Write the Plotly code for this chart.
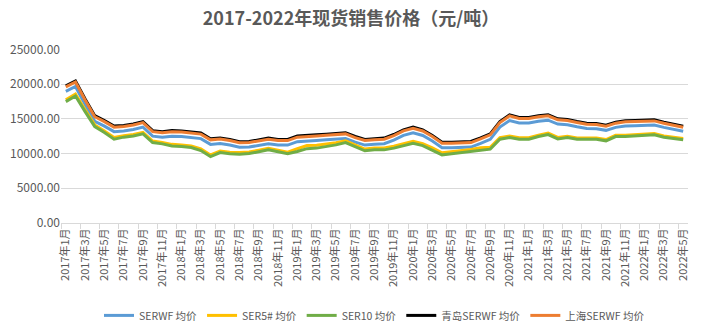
import plotly.graph_objects as go

months = [f"{y}年{m}月" for y in range(2017, 2023) for m in range(1, 13)][:65]

shanghai = [19600, 20300, 17700, 15300, 14600, 13800, 13900, 14100, 14450, 13150,
            13000, 13150, 13100, 13000, 12800, 11970, 12100, 11870, 11550, 11580,
            11870, 12070, 11870, 11870, 12360, 12500, 12540, 12640, 12740, 12830,
            12300, 11870, 11970, 12070, 12590, 13260, 13650, 13250, 12450, 11490,
            11490, 11580, 11580, 12110, 12690, 14460, 15420, 15040, 15040, 15300,
            15440, 14850, 14750, 14460, 14220, 14170, 13940, 14370, 14560, 14600,
            14700, 14700, 14370, 14120, 13790]

qingdao = [19750, 20450, 17850, 15450, 14750, 13950, 14050, 14250, 14600, 13300,
           13150, 13300, 13250, 13150, 12950, 12120, 12250, 12020, 11700, 11730,
           12020, 12220, 12020, 12020, 12510, 12650, 12690, 12790, 12890, 12980,
           12450, 12020, 12120, 12220, 12740, 13410, 13800, 13400, 12600, 11640,
           11640, 11730, 11730, 12260, 12840, 14610, 15570, 15190, 15190, 15450,
           15590, 15000, 14900, 14610, 14370, 14320, 14090, 14520, 14710, 14750,
           14850, 14850, 14520, 14270, 13940]

serwf = [18950, 19650, 17050, 14650, 13950, 13150, 13250, 13450, 13800, 12500,
         12350, 12500, 12450, 12350, 12150, 11320, 11450, 11220, 10900, 10930,
         11220, 11420, 11220, 11220, 11710, 11850, 11890, 11990, 12090, 12180,
         11650, 11220, 11320, 11420, 11940, 12610, 13000, 12600, 11800, 10840,
         10840, 10930, 10930, 11460, 12040, 13810, 14750, 14400, 14400, 14650,
         14800, 14250, 14150, 13860, 13620, 13570, 13340, 13770, 13960, 14000,
         14100, 14100, 13770, 13520, 13200]

ser5 = [17750, 18580, 16300, 14120, 13250, 12300, 12580, 12760, 13050, 11800,
        11600, 11320, 11230, 11100, 10660, 9800, 10370, 10190, 10140, 10230,
        10480, 10760, 10480, 10200, 10690, 11150, 11180, 11360, 11550, 11830,
        11260, 10640, 10800, 10800, 11050, 11370, 11760, 11420, 10820, 10100,
        10250, 10430, 10580, 10820, 10900, 12300, 12520, 12270, 12270, 12650,
        12940, 12310, 12500, 12250, 12250, 12250, 12010, 12630, 12630, 12720,
        12870, 12870, 12540, 12340, 12150]

ser10 = [17470, 18290, 16030, 13880, 13020, 12070, 12360, 12540, 12830, 11580,
         11390, 11100, 11000, 10860, 10430, 9570, 10140, 9960, 9910, 10000,
         10250, 10530, 10250, 9960, 10290, 10700, 10780, 11010, 11250, 11580,
         11010, 10390, 10530, 10530, 10780, 11100, 11490, 11150, 10530, 9810,
         9960, 10140, 10290, 10530, 10630, 12070, 12300, 12070, 12070, 12450,
         12740, 12110, 12300, 12070, 12070, 12070, 11830, 12450, 12450, 12540,
         12690, 12690, 12360, 12160, 11970]

series = [
    ("SERWF 均价", serwf, "#5B9BD5"),
    ("SER5# 均价", ser5, "#FFC000"),
    ("SER10 均价", ser10, "#70AD47"),
    ("青岛SERWF 均价", qingdao, "#000000"),
    ("上海SERWF 均价", shanghai, "#ED7D31"),
]

FONT = "Noto Sans CJK SC"
GREY = "#595959"

fig = go.Figure()
for name, vals, color in series:
    fig.add_trace(go.Scatter(x=months, y=vals, name=name, mode="lines",
                             line=dict(color=color, width=3)))

fig.update_layout(
    width=702, height=332,
    margin=dict(l=61, r=14, t=49, b=109, autoexpand=False),
    paper_bgcolor="white", plot_bgcolor="white",
    font=dict(family=FONT, color=GREY, size=12),
    title=dict(text="<b>2017-2022年现货销售价格（元/吨）</b>", x=0.5, xanchor="center",
               y=0.945, yanchor="middle", font=dict(family=FONT, size=18, color=GREY)),
    showlegend=True,
    legend=dict(orientation="h", x=0.5, xanchor="center", yref="container",
                y=0.05, yanchor="middle",
                font=dict(family=FONT, size=10.5, color=GREY), itemwidth=30,
                bgcolor="rgba(0,0,0,0)"),
)
fig.update_xaxes(type="category", tickangle=-90, dtick=2, tickson="boundaries",
                 ticks="outside", ticklen=5, tickcolor="#D9D9D9", automargin=False,
                 showline=True, linecolor="#D9D9D9", linewidth=1, showgrid=False,
                 tickfont=dict(family=FONT, size=11, color=GREY),
                 range=[-0.5, 64.5])
fig.update_yaxes(range=[0, 25050], tickvals=[0, 5000, 10000, 15000, 20000, 25000],
                 tickformat=".2f", showgrid=True, gridcolor="#D9D9D9", gridwidth=1,
                 zeroline=False, showline=False, automargin=False,
                 tickfont=dict(family=FONT, size=12, color=GREY))

fig.write_html("out.html")
